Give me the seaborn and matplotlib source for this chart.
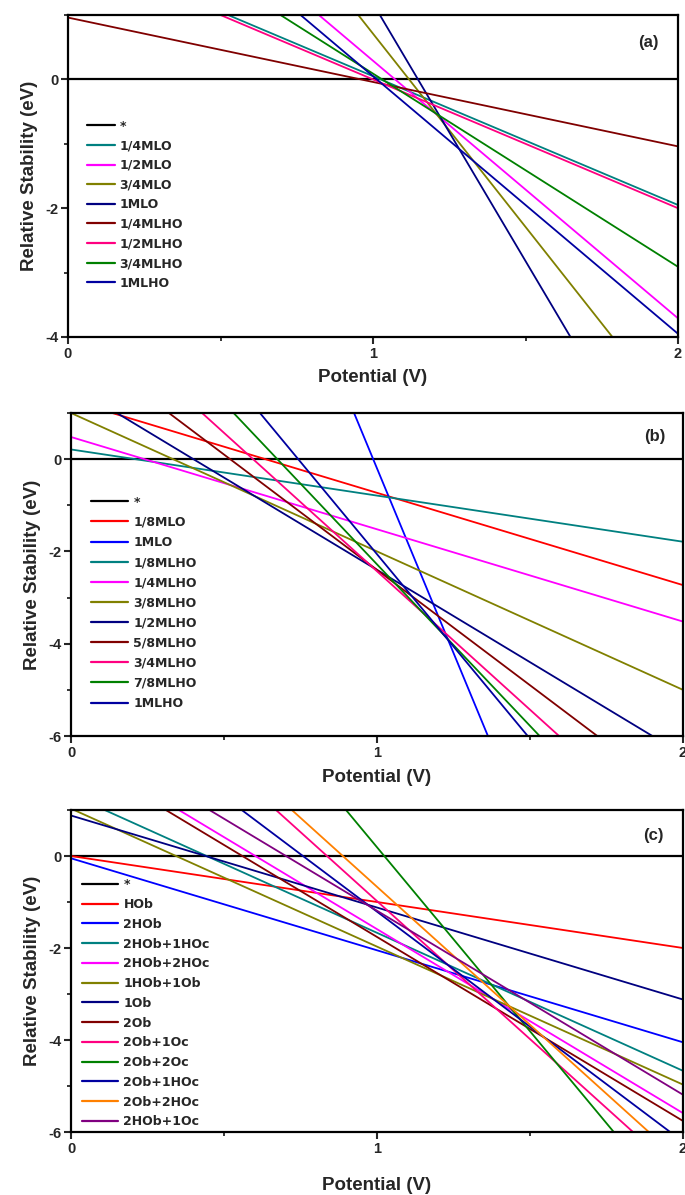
import numpy as np
import pandas as pd
import matplotlib
matplotlib.use("Agg")
import matplotlib.pyplot as plt
from matplotlib.ticker import MultipleLocator
import seaborn as sns

# ---------------- data (relative stability at V = 0 and V = 2) ----------------
potential = [0.0, 2.0]

labels_a = ["*", "1/4MLO", "1/2MLO", "3/4MLO", "1MLO",
            "1/4MLHO", "1/2MLHO", "3/4MLHO", "1MLHO"]
start_a = [0.0, 2.05, 4.29, 6.71, 9.18, 0.96, 2.00, 3.09, 4.05]
end_a = [0.0, -1.95, -3.71, -5.29, -6.82, -1.04, -2.00, -2.91, -3.95]
colors_a = ["#000000", "#008080", "#FF00FF", "#808000", "#000080",
            "#800000", "#FF0080", "#008000", "#0000A0"]

labels_b = ["*", "1/8MLO", "1MLO", "1/8MLHO", "1/4MLHO", "3/8MLHO",
            "1/2MLHO", "5/8MLHO", "3/4MLHO", "7/8MLHO", "1MLHO"]
start_b = [0.0, 1.27, 15.80, 0.21, 0.48, 1.00, 1.60, 2.60, 3.57, 4.72, 5.94]
end_b = [0.0, -2.73, -16.20, -1.79, -3.52, -5.00, -6.40, -7.40, -8.43, -9.28, -10.06]
colors_b = ["#000000", "#FF0000", "#0000FF", "#008080", "#FF00FF", "#808000",
            "#000080", "#800000", "#FF0080", "#008000", "#0000A0"]

labels_c = ["*", "HOb", "2HOb", "2HOb+1HOc", "2HOb+2HOc", "1HOb+1Ob", "1Ob",
            "2Ob", "2Ob+1Oc", "2Ob+2Oc", "2Ob+1HOc", "2Ob+2HOc", "2HOb+1Oc"]
start_c = [0.0, 0.00, -0.05, 1.33, 2.41, 1.03, 0.88, 2.24, 5.02, 8.19, 3.79, 5.33, 2.81]
end_c = [0.0, -2.00, -4.05, -4.67, -5.59, -4.97, -3.12, -5.76, -6.98, -7.81, -6.21, -6.67, -5.19]
colors_c = ["#000000", "#FF0000", "#0000FF", "#008080", "#FF00FF", "#808000",
            "#000080", "#800000", "#FF0080", "#008000", "#0000A0", "#FF8000", "#800080"]

panels = [
    dict(labels=labels_a, start=start_a, end=end_a, colors=colors_a, tag="(a)",
         ylim=(-4, 1), rect=[68/685, 1-337/1195, 610/685, 322/1195],
         leg=(0.014, 0.706), hl=2.25, ls=0.53, tagpos=(0.951, 0.916)),
    dict(labels=labels_b, start=start_b, end=end_b, colors=colors_b, tag="(b)",
         ylim=(-6, 1), rect=[71/685, 1-736/1195, 612/685, 323/1195],
         leg=(0.017, 0.775), hl=2.95, ls=0.57, tagpos=(0.954, 0.927)),
    dict(labels=labels_c, start=start_c, end=end_c, colors=colors_c, tag="(c)",
         ylim=(-6, 1), rect=[71/685, 1-1132/1195, 612/685, 322/1195],
         leg=(0.002, 0.819), hl=2.9, ls=0.54, tagpos=(0.951, 0.922)),
]

sns.set_theme(style="ticks")
plt.rcParams["font.family"] = ["Liberation Sans", "DejaVu Sans"]
plt.rcParams["axes.unicode_minus"] = False

fig = plt.figure(figsize=(6.85, 11.95), dpi=100)
fig.patch.set_facecolor("white")

xlabel_y = [378, 778, 1185]

for i, p in enumerate(panels):
    ax = fig.add_axes(p["rect"])
    rows = []
    for lab, s, e in zip(p["labels"], p["start"], p["end"]):
        rows.append({"V": potential[0], "E": s, "series": lab})
        rows.append({"V": potential[1], "E": e, "series": lab})
    df = pd.DataFrame(rows)
    pal = dict(zip(p["labels"], p["colors"]))
    sns.lineplot(data=df, x="V", y="E", hue="series", hue_order=p["labels"],
                 palette=pal, ax=ax, linewidth=1.3, legend=True)
    for ln in ax.get_lines()[:1]:
        ln.set_linewidth(1.6)
    ax.set_xlim(0, 2)
    ax.set_ylim(*p["ylim"])
    ax.xaxis.set_major_locator(MultipleLocator(1))
    ax.xaxis.set_minor_locator(MultipleLocator(0.5))
    ax.yaxis.set_major_locator(MultipleLocator(2))
    ax.yaxis.set_minor_locator(MultipleLocator(1))
    ax.tick_params(which="major", direction="out", length=5, width=1.5,
                   labelsize=10.5, pad=2)
    ax.tick_params(which="minor", direction="out", length=3, width=1.3)
    for lbl in ax.get_xticklabels() + ax.get_yticklabels():
        lbl.set_fontweight("bold")
    for sp in ax.spines.values():
        sp.set_visible(True)
        sp.set_linewidth(1.6)
        sp.set_color("black")
    ax.set_xlabel("")
    ax.set_ylabel("Relative Stability (eV)", fontsize=13.5, fontweight="bold",
                  labelpad=5)
    ax.text(p["tagpos"][0], p["tagpos"][1], p["tag"], transform=ax.transAxes,
            ha="center", va="center", fontsize=12, fontweight="bold")
    leg = ax.legend(loc="upper left", bbox_to_anchor=p["leg"], frameon=False,
                    handlelength=p["hl"], handletextpad=0.4, labelspacing=p["ls"],
                    borderpad=0.3, prop={"family": "DejaVu Sans", "weight": "bold",
                                         "size": 9})
    for h in leg.get_lines():
        h.set_linewidth(1.6)
    fig.text(p["rect"][0] + p["rect"][2] / 2, 1 - xlabel_y[i] / 1195,
             "Potential (V)", ha="center", va="center",
             fontsize=13.5, fontweight="bold")

fig.savefig("out.png", dpi=100, facecolor="white")
